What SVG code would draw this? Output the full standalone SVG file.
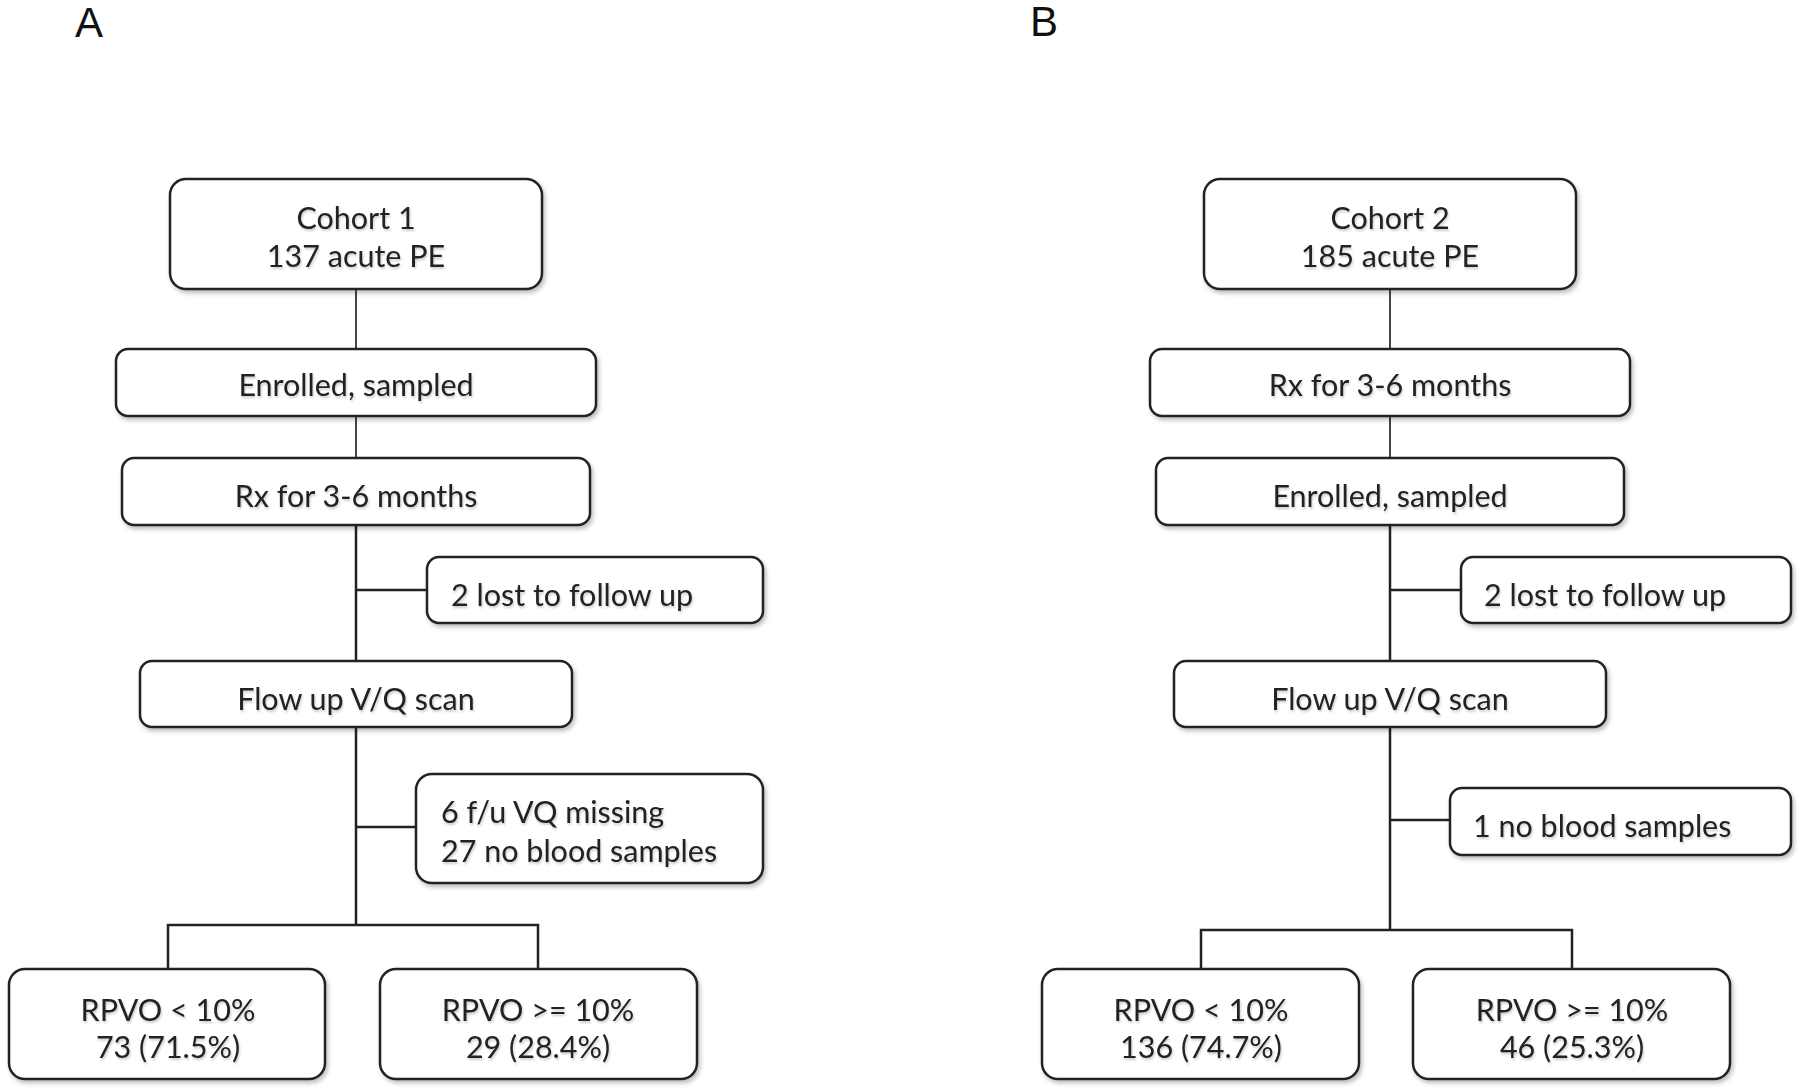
<svg xmlns="http://www.w3.org/2000/svg" width="1800" height="1091" viewBox="0 0 1800 1091">
<style>
.box{fill:#fff;stroke:#222;stroke-width:2.5;filter:url(#sh)}
.t{font-family:Lato,"Liberation Sans",sans-serif;font-size:30.5px;fill:#222;text-anchor:middle;filter:url(#tsh)}
.tl{text-anchor:start}
.lbl{font-family:"Liberation Sans",Arial,sans-serif;font-size:42px;fill:#111}
.ln{stroke:#222;stroke-width:2.5;fill:none}
.ln2{stroke:#444;stroke-width:2;fill:none}
</style>
<defs>
<filter id="sh" x="-10%" y="-20%" width="120%" height="150%"><feDropShadow dx="2" dy="3" stdDeviation="2" flood-color="#000" flood-opacity="0.25"/></filter>
<filter id="tsh" x="-10%" y="-30%" width="120%" height="160%"><feDropShadow dx="1" dy="2" stdDeviation="1" flood-color="#000" flood-opacity="0.2"/></filter>
</defs>
<rect width="1800" height="1091" fill="#fff"/>
<text class="lbl" x="75" y="37">A</text>
<text class="lbl" x="1030" y="36">B</text>

<g id="connectors">
<line class="ln2" x1="356" y1="289" x2="356" y2="349"/>
<line class="ln2" x1="356" y1="416" x2="356" y2="458"/>
<line class="ln" x1="356" y1="525" x2="356" y2="661"/>
<line class="ln" x1="356" y1="590" x2="427" y2="590"/>
<line class="ln" x1="356" y1="727" x2="356" y2="925"/>
<line class="ln" x1="356" y1="827" x2="416" y2="827"/>
<polyline class="ln" points="168,969 168,925 538,925 538,969"/>

<line class="ln2" x1="1390" y1="289" x2="1390" y2="349"/>
<line class="ln2" x1="1390" y1="416" x2="1390" y2="458"/>
<line class="ln" x1="1390" y1="525" x2="1390" y2="661"/>
<line class="ln" x1="1390" y1="590" x2="1461" y2="590"/>
<line class="ln" x1="1390" y1="727" x2="1390" y2="930"/>
<line class="ln" x1="1390" y1="820" x2="1450" y2="820"/>
<polyline class="ln" points="1201,969 1201,930 1572,930 1572,969"/>
</g>

<g id="a-cohort"><rect class="box" x="170" y="179" width="372" height="110" rx="16"/>
<text class="t" x="356" y="229">Cohort 1</text><text class="t" x="356" y="267">137 acute PE</text></g>
<g id="a-enrolled"><rect class="box" x="116" y="349" width="480" height="67" rx="12"/>
<text class="t" x="356" y="396">Enrolled, sampled</text></g>
<g id="a-rx"><rect class="box" x="122" y="458" width="468" height="67" rx="12"/>
<text class="t" x="356" y="507">Rx for 3-6 months</text></g>
<g id="a-lost"><rect class="box" x="427" y="557" width="336" height="66" rx="12"/>
<text class="t tl" x="451" y="606">2 lost to follow up</text></g>
<g id="a-flow"><rect class="box" x="140" y="661" width="432" height="66" rx="12"/>
<text class="t" x="356" y="710">Flow up V/Q scan</text></g>
<g id="a-missing"><rect class="box" x="416" y="774" width="347" height="109" rx="16"/>
<text class="t tl" x="441" y="823">6 f/u VQ missing</text><text class="t tl" x="441" y="862">27 no blood samples</text></g>
<g id="a-low"><rect class="box" x="9" y="969" width="316" height="110" rx="16"/>
<text class="t" x="168" y="1021">RPVO &lt; 10%</text><text class="t" x="168" y="1058">73 (71.5%)</text></g>
<g id="a-high"><rect class="box" x="380" y="969" width="317" height="110" rx="16"/>
<text class="t" x="538" y="1021">RPVO &gt;= 10%</text><text class="t" x="538" y="1058">29 (28.4%)</text></g>

<g id="b-cohort"><rect class="box" x="1204" y="179" width="372" height="110" rx="16"/>
<text class="t" x="1390" y="229">Cohort 2</text><text class="t" x="1390" y="267">185 acute PE</text></g>
<g id="b-rx"><rect class="box" x="1150" y="349" width="480" height="67" rx="12"/>
<text class="t" x="1390" y="396">Rx for 3-6 months</text></g>
<g id="b-enrolled"><rect class="box" x="1156" y="458" width="468" height="67" rx="12"/>
<text class="t" x="1390" y="507">Enrolled, sampled</text></g>
<g id="b-lost"><rect class="box" x="1461" y="557" width="330" height="66" rx="12"/>
<text class="t tl" x="1484" y="606">2 lost to follow up</text></g>
<g id="b-flow"><rect class="box" x="1174" y="661" width="432" height="66" rx="12"/>
<text class="t" x="1390" y="710">Flow up V/Q scan</text></g>
<g id="b-noblood"><rect class="box" x="1450" y="788" width="341" height="67" rx="12"/>
<text class="t tl" x="1473" y="837">1 no blood samples</text></g>
<g id="b-low"><rect class="box" x="1042" y="969" width="317" height="110" rx="16"/>
<text class="t" x="1201" y="1021">RPVO &lt; 10%</text><text class="t" x="1201" y="1058">136 (74.7%)</text></g>
<g id="b-high"><rect class="box" x="1413" y="969" width="317" height="110" rx="16"/>
<text class="t" x="1572" y="1021">RPVO &gt;= 10%</text><text class="t" x="1572" y="1058">46 (25.3%)</text></g>
</svg>
